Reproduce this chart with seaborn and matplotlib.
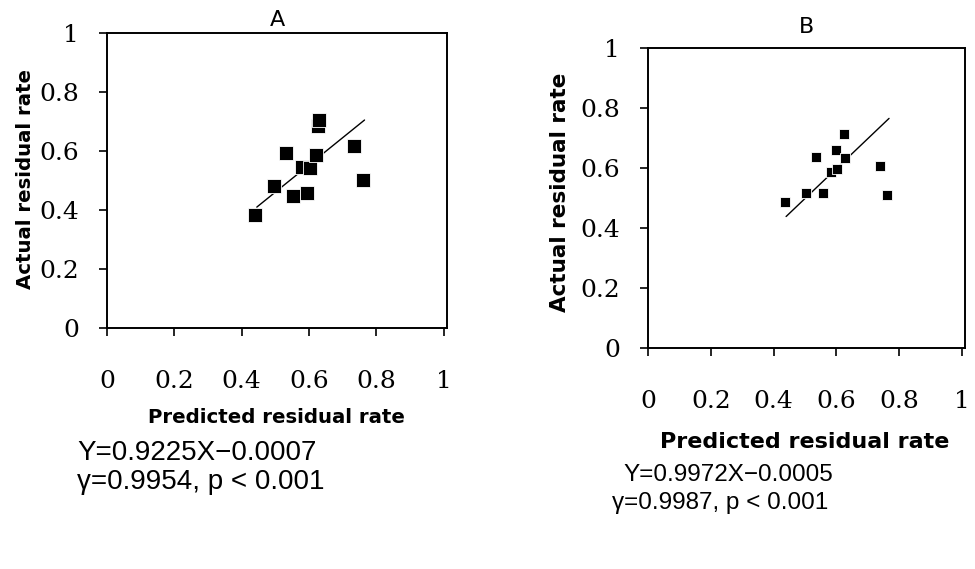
import matplotlib
matplotlib.use("Agg")
import matplotlib.pyplot as plt
import seaborn as sns
import numpy as np
import pandas as pd

# ---- data ----
pred_A = [0.44, 0.497, 0.531, 0.554, 0.579, 0.594, 0.602, 0.621, 0.626, 0.629, 0.735, 0.761]
act_A = [0.382, 0.48, 0.593, 0.449, 0.545, 0.458, 0.541, 0.587, 0.686, 0.706, 0.618, 0.503]
pred_B = [0.435, 0.502, 0.534, 0.558, 0.584, 0.600, 0.603, 0.626, 0.629, 0.740, 0.763]
act_B = [0.488, 0.518, 0.638, 0.518, 0.586, 0.660, 0.597, 0.714, 0.633, 0.608, 0.510]
slope_A, icpt_A = 0.9225, -0.0007
slope_B, icpt_B = 0.9972, -0.0005
fit_x_A = [0.445, 0.765]
fit_x_B = [0.44, 0.768]
ticks = [0, 0.2, 0.4, 0.6, 0.8, 1]
tick_labels = ["0", "0.2", "0.4", "0.6", "0.8", "1"]
titles = ["A", "B"]
eq_A = ["Y=0.9225X\u22120.0007", "\u03b3=0.9954, p < 0.001"]
eq_B = ["Y=0.9972X\u22120.0005", "\u03b3=0.9987, p < 0.001"]

sns.set_style("ticks")
plt.rcParams["font.family"] = ["DejaVu Sans"]
plt.rcParams["text.color"] = "black"
plt.rcParams["axes.labelcolor"] = "black"
plt.rcParams["xtick.color"] = "black"
plt.rcParams["ytick.color"] = "black"

W, H = 975, 569
fig = plt.figure(figsize=(W / 100, H / 100), dpi=100)

def px_rect(l, t, r, b):
    return [l / W, 1 - b / H, (r - l) / W, (b - t) / H]

axA = fig.add_axes(px_rect(107, 33, 447, 328))
axB = fig.add_axes(px_rect(648, 48, 965, 348))

cfg = [
    (axA, pred_A, act_A, slope_A, icpt_A, fit_x_A, 88, 14.2, 14.2, 16, 5,
     (0.497, -0.302), (-0.241, 0.505), 18),
    (axB, pred_B, act_B, slope_B, icpt_B, fit_x_B, 55, 16, 15.5, 16, 11,
     (0.495, -0.313), (-0.278, 0.518), 18),
]

for i, (ax, px, py, sl, ic, fx, ms, xlab_fs, ylab_fs, tfs, tpad, xlc, ylc, tick_fs) in enumerate(cfg):
    df = pd.DataFrame({"pred": px, "act": py})
    fit = pd.DataFrame({"x": fx, "y": [sl * v + ic for v in fx]})
    sns.lineplot(data=fit, x="x", y="y", ax=ax, color="black", linewidth=1.0, zorder=2)
    sns.scatterplot(data=df, x="pred", y="act", ax=ax, marker="s", s=ms,
                    color="black", edgecolor="white", linewidth=0.6, zorder=3)
    ax.set_xlim(0, 1.01)
    ax.set_ylim(0, 1.0)
    ax.set_xticks(ticks)
    ax.set_xticklabels(tick_labels, fontfamily="DejaVu Serif", fontsize=tick_fs)
    ax.set_yticks(ticks)
    ax.set_yticklabels(tick_labels, fontfamily="DejaVu Serif", fontsize=tick_fs)
    ax.tick_params(axis="x", direction="out", length=6, width=1.2, pad=24)
    ax.tick_params(axis="y", direction="out", length=6, width=1.2, pad=14)
    for sp in ax.spines.values():
        sp.set_linewidth(1.4)
        sp.set_color("black")
    ax.set_xlabel("Predicted residual rate", fontsize=xlab_fs, fontweight="bold")
    ax.set_ylabel("Actual residual rate", fontsize=ylab_fs, fontweight="bold")
    ax.xaxis.label.set_va("center")
    ax.yaxis.label.set_va("center")
    ax.xaxis.set_label_coords(*xlc)
    ax.yaxis.set_label_coords(*ylc)
    ax.set_title(titles[i], fontsize=tfs, fontweight="medium", pad=tpad)

def ftext(x, y, s, fs):
    fig.text(x / W, 1 - y / H, s, ha="left", va="center", fontsize=fs,
             fontfamily=["Liberation Sans", "DejaVu Sans"])

ftext(77, 453, eq_A[0], 20)
ftext(77, 482, eq_A[1], 20)
ftext(623, 475, eq_B[0], 17.5)
ftext(612, 503, eq_B[1], 17.5)

fig.savefig("out.png", dpi=100, facecolor="white")
